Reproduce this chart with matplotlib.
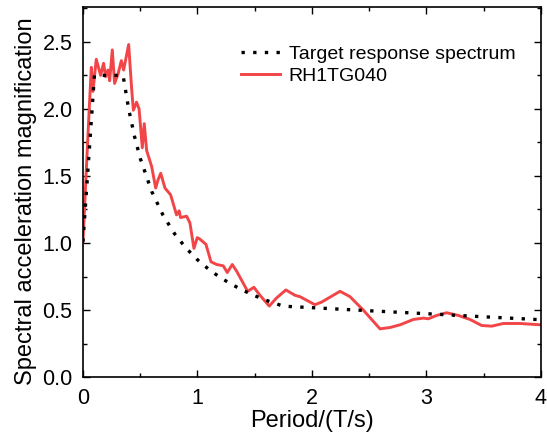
import numpy as np
import matplotlib
matplotlib.use('Agg')
import matplotlib.pyplot as plt
from matplotlib.ticker import MultipleLocator

plt.rcParams['font.family'] = ['Liberation Sans', 'DejaVu Sans']
plt.rcParams['font.size'] = 15.5

# Target response spectrum
periodo_alvo = [0.0, 0.1, 0.35, 0.4, 0.45, 0.5, 0.6, 0.7, 0.8, 0.9, 1.0,
                1.1, 1.2, 1.3, 1.4, 1.5, 1.6, 1.75, 2.0, 2.5, 3.0, 3.5, 4.0]
espectro_alvo = [1.01, 2.25, 2.25, 1.995, 1.795, 1.632, 1.385, 1.206, 1.069,
                 0.962, 0.875, 0.803, 0.742, 0.691, 0.646, 0.607, 0.573,
                 0.529, 0.518, 0.495, 0.473, 0.450, 0.428]

# RH1TG040 record spectrum
periodo_reg = [0.0, 0.03, 0.058, 0.073, 0.087, 0.116, 0.154, 0.18, 0.197,
               0.218, 0.233, 0.256, 0.276, 0.306, 0.335, 0.355, 0.399, 0.425,
               0.44, 0.468, 0.49, 0.518, 0.535, 0.556, 0.6, 0.635, 0.655,
               0.679, 0.716, 0.765, 0.817, 0.84, 0.852, 0.905, 0.934, 0.969,
               0.998, 1.02, 1.074, 1.118, 1.167, 1.225, 1.26, 1.304, 1.342,
               1.438, 1.493, 1.546, 1.627, 1.69, 1.772, 1.852, 1.895, 2.026,
               2.085, 2.245, 2.332, 2.448, 2.594, 2.681, 2.769, 2.885, 2.973,
               3.016, 3.089, 3.176, 3.278, 3.38, 3.482, 3.57, 3.671, 3.817,
               4.0]
espectro_reg = [1.01, 1.56, 2.06, 2.31, 2.13, 2.37, 2.25, 2.34, 2.24, 2.29,
                2.21, 2.44, 2.19, 2.26, 2.36, 2.29, 2.48, 2.15, 1.99, 2.05,
                2.0, 1.71, 1.89, 1.69, 1.57, 1.41, 1.47, 1.52, 1.41, 1.36,
                1.21, 1.24, 1.19, 1.20, 1.15, 0.96, 1.04, 1.03, 0.99, 0.86,
                0.84, 0.83, 0.78, 0.84, 0.79, 0.64, 0.67, 0.61, 0.53, 0.59,
                0.65, 0.61, 0.60, 0.54, 0.56, 0.64, 0.60, 0.50, 0.36, 0.37,
                0.39, 0.43, 0.44, 0.435, 0.46, 0.48, 0.46, 0.43, 0.385, 0.38,
                0.40, 0.40, 0.39]

fig = plt.figure(figsize=(5.47, 4.37), dpi=100)
ax = fig.add_axes([0.1517, 0.137, 0.8373, 0.847])

ax.plot(periodo_alvo, espectro_alvo, color='black', linewidth=2.4,
        linestyle=(0, (1, 2.5)), label='Target response spectrum', zorder=3)
ax.plot(periodo_reg, espectro_reg, color='#F24548', linewidth=2.1,
        label='RH1TG040', zorder=2)

ax.set_xlim(0, 4)
ax.set_ylim(0, 2.76)
ax.xaxis.set_major_locator(MultipleLocator(1))
ax.xaxis.set_minor_locator(MultipleLocator(0.5))
ax.yaxis.set_major_locator(MultipleLocator(0.5))
ax.yaxis.set_minor_locator(MultipleLocator(0.25))
ax.yaxis.set_major_formatter(plt.FormatStrFormatter('%.1f'))

ax.tick_params(which='both', direction='in', top=True, right=True, width=1.0)
ax.tick_params(which='major', length=5, pad=7.5, labelsize=15.5)
ax.tick_params(which='minor', length=3)
for s in ax.spines.values():
    s.set_linewidth(1.2)

ax.set_xlabel('Period/(T/s)', fontsize=17, labelpad=1)
ax.set_ylabel('Spectral acceleration magnification', fontsize=17)
ax.yaxis.set_label_coords(-0.1, 0.475)

ax.legend(loc='upper left', bbox_to_anchor=(0.345, 0.897), frameon=False,
          fontsize=14, handlelength=2.0, handletextpad=0.45,
          labelspacing=0.25, borderpad=0, borderaxespad=0)

fig.savefig('out.png', dpi=100)
